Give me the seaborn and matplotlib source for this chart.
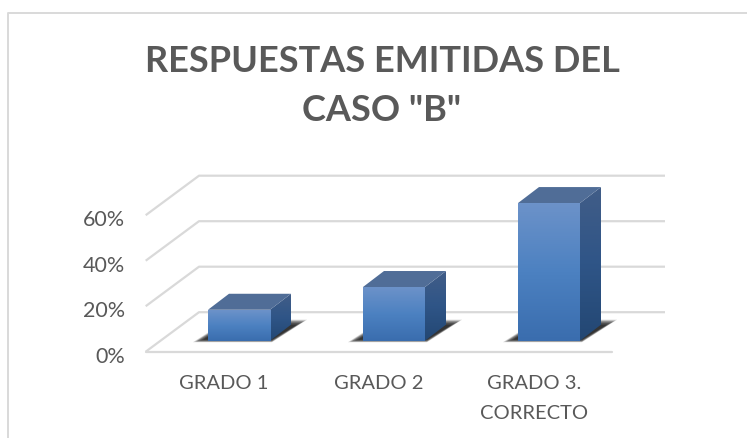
import numpy as np
import pandas as pd
import seaborn as sns
import matplotlib.pyplot as plt
from matplotlib.colors import LinearSegmentedColormap
from matplotlib.patches import Polygon
from matplotlib.transforms import ScaledTranslation

# Data
categories = ["GRADO 1", "GRADO 2", "GRADO 3.\nCORRECTO"]
values = [13.6, 23.6, 60.5]
ticks = [0, 20, 40, 60]
title = 'RESPUESTAS EMITIDAS DEL\nCASO "B"'

sns.set_theme(style="white")
plt.rcParams["font.family"] = ["Lato", "DejaVu Sans"]

W, H = 747, 439
fig = plt.figure(figsize=(W / 100, H / 100), dpi=100)

# axes box: front edge of the floor in x, bar base at y=0
left, right, base, top = 145.7, 611.7, 341.7, 150.0
ax = fig.add_axes([left / W, 1 - base / H, (right - left) / W, (base - top) / H])

df = pd.DataFrame({"grado": categories, "pct": values})
sns.barplot(data=df, x="grado", y="pct", width=0.4, color="#4a80c0", ax=ax, zorder=3)

# pixels -> data units
px = 1 / 155
py = 1 / 2.275
xlim = ((left - 239) * px, (right - 239) * px)
ylim = (0, (base - top) * py)

front = -11 * py
back = 28.5 * py
shift = 53.3 * px
depth_x = 21 * px
depth_y = 16 * py

grid_col = "#d9d9d9"
for t in ticks:
    if t == 0:
        ax.plot(xlim, [front, front], color=grid_col, lw=1.6, clip_on=False, zorder=1)
    xs = [xlim[0], xlim[0] + shift, xlim[1] + shift]
    ys = [t + front, t + back, t + back]
    ax.plot(xs, ys, color=grid_col, lw=1.6, clip_on=False, zorder=1, solid_capstyle="butt")

front_cmap = LinearSegmentedColormap.from_list("f", ["#6c92c9", "#4c81c1", "#3a6dae"])
side_cmap = LinearSegmentedColormap.from_list("s", ["#415d87", "#2f5587", "#234773"])
grad = np.linspace(0, 1, 128).reshape(-1, 1)

for bar in list(ax.patches):
    x0, x1 = bar.get_x(), bar.get_x() + bar.get_width()
    h = bar.get_height()
    bar.set_visible(False)

    # soft shadow on the floor
    for g, alpha in [(2, 0.2), (0, 0.3), (-2, 0.4), (-5, 0.5), (-8, 0.6)]:
        shadow = Polygon(
            [(x0 - (13 + g) * px, (-1 - g / 4) * py), (x1 + 2 * px, (-1 - g / 4) * py),
             (x1 + (35 + g) * px, (20 + g / 2) * py), (x0 + 20 * px, (20 + g / 2) * py)],
            closed=True, fc="#262626", ec="none", alpha=alpha, clip_on=False, zorder=2)
        ax.add_patch(shadow)

    # right side and top faces
    side = Polygon([(x1, 0), (x1 + depth_x, depth_y), (x1 + depth_x, h + depth_y), (x1, h)],
                   closed=True, fc="none", ec="none", transform=ax.transData)
    ax.add_patch(side)
    im = ax.imshow(grad, extent=(x1, x1 + depth_x, 0, h + depth_y), cmap=side_cmap,
                   aspect="auto", origin="upper", zorder=3)
    im.set_clip_path(side)

    ax.add_patch(Polygon([(x0, h), (x1, h), (x1 + depth_x, h + depth_y), (x0 + depth_x, h + depth_y)],
                         closed=True, fc="#506d97", ec="none", clip_on=False, zorder=3))

    # front face
    ax.imshow(grad, extent=(x0, x1, 0, h), cmap=front_cmap, aspect="auto",
              origin="upper", zorder=4, clip_on=False)

ax.set_yticks(ticks, [f"{t}%" for t in ticks])
ax.set_xlabel("")
ax.set_ylabel("")
ax.set_xlim(xlim)
ax.set_ylim(ylim)
ax.tick_params(axis="y", length=0, pad=15, labelsize=15.5, labelcolor="#595959")
ax.tick_params(axis="x", length=0, pad=24, labelsize=14.5, labelcolor="#595959")

# value labels sit on the front plane, below the bar base
y_shift = ScaledTranslation(0, -13 / 100, fig.dpi_scale_trans)
for lab in ax.get_yticklabels():
    lab.set_transform(lab.get_transform() + y_shift)

# category labels sit left of the bars, under the front edge
x_shift = ScaledTranslation(-15 / 100, 0, fig.dpi_scale_trans)
for lab in ax.get_xticklabels():
    lab.set_transform(lab.get_transform() + x_shift)
    lab.set_linespacing(1.95)

sns.despine(ax=ax, left=True, bottom=True)
ax.patch.set_alpha(0)

# chart frame, runs off the picture at the bottom
fig.add_artist(plt.Line2D([7.5 / W, 7.5 / W, 1], [0, 1 - 14 / H, 1 - 14 / H],
                          color="#d9d9d9", lw=1.4))

fig.text(382 / W, 1 - 86 / H, title, ha="center", va="center", fontsize=26,
         fontweight="bold", color="#595959", linespacing=1.62)

fig.savefig("out.png", dpi=100)
plt.close()
